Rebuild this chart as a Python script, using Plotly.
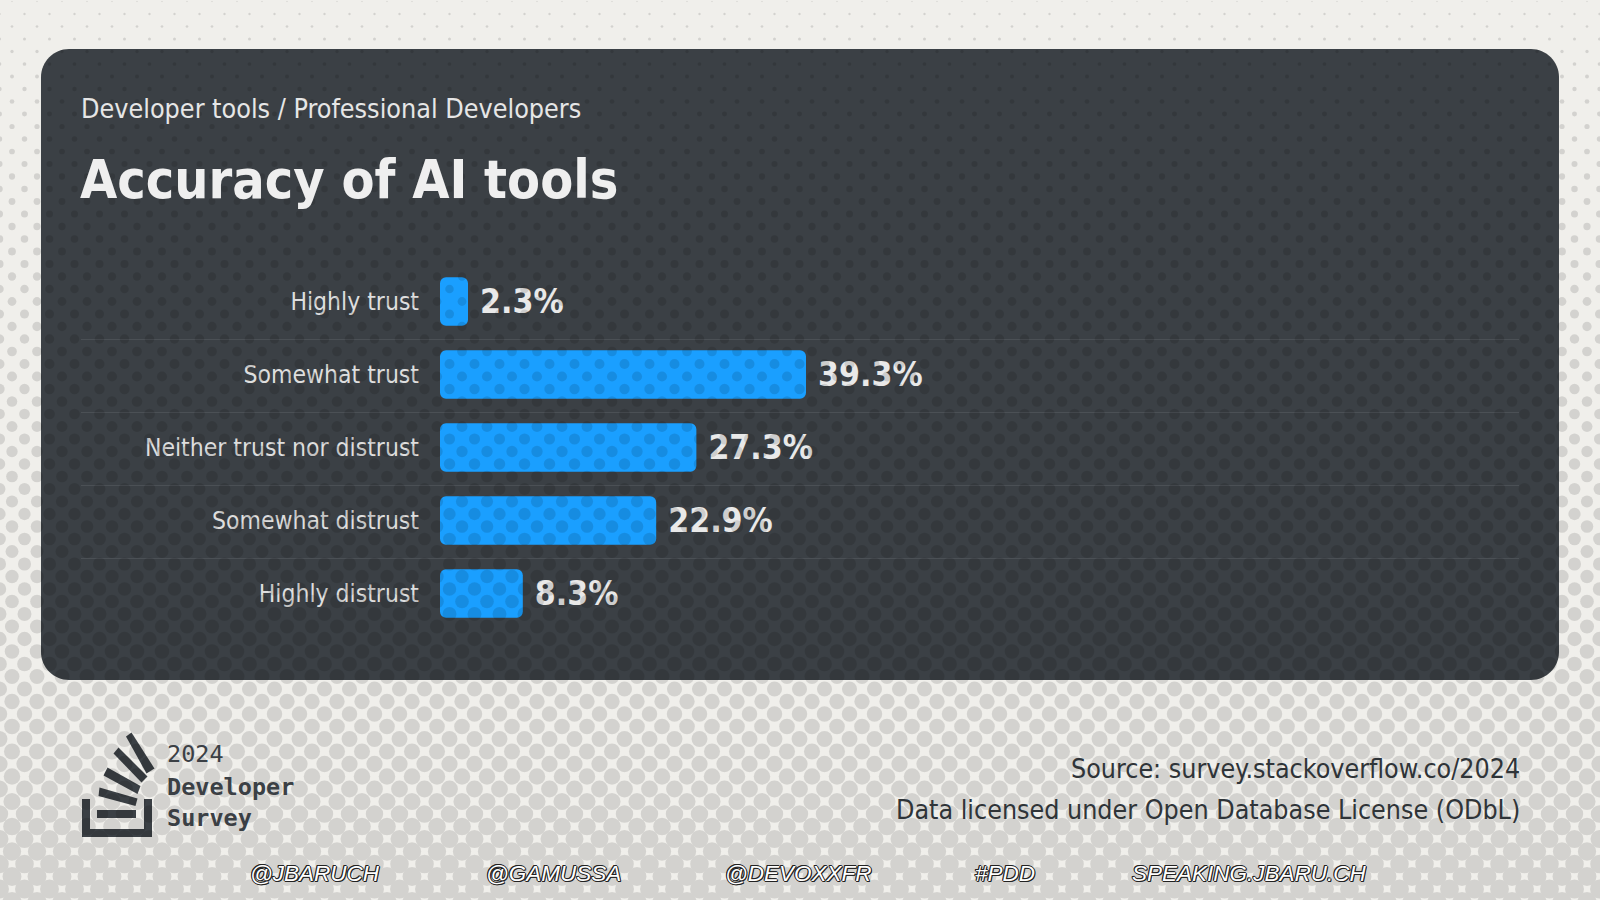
import base64
import numpy as np
import plotly.graph_objects as go

W, H = 1600, 900

categories = ["Highly trust", "Somewhat trust", "Neither trust nor distrust", "Somewhat distrust", "Highly distrust"]
values = [2.3, 39.3, 27.3, 22.9, 8.3]
handles = ["@JBARUCH", "@GAMUSSA", "@DEVOXXFR", "#PDD", "SPEAKING.JBARU.CH"]
handle_x = [315, 553, 798, 1005, 1249]
source_lines = ["Source: survey.stackoverflow.co/2024", "Data licensed under Open Database License (ODbL)"]

PX_PER_UNIT = 9.135
BAR_PAD = 0.766  # bars have a small minimum width on top of the value
PLOT_LEFT, PLOT_RIGHT = 440, 1519
PLOT_TOP, PLOT_BOTTOM = 265, 630
CARD = "#3b4045"
PAGE = "#f0efeb"
BLUE = "#1a9fff"
SANS = "DejaVu Sans Condensed, DejaVu Sans"


def px(x):
    return x / W


def py(y):
    return 1 - y / H


def halftone_svg():
    # dots get bigger going down the page
    dots = []
    row = 0
    for y in np.arange(1.5, H + 13, 12.5):
        r = np.interp(y, [0, 14, 115, 330, 680, 770, 880], [0.6, 1.2, 2.5, 4.7, 7.5, 8.2, 9.5])
        start = 12 if row % 2 == 0 else 24.5
        for x in np.arange(start - 25, W + 25, 25):
            dots.append(f'<circle cx="{x}" cy="{y}" r="{r:.2f}"/>')
        row += 1
    svg = f'<svg xmlns="http://www.w3.org/2000/svg" width="{W}" height="{H}" viewBox="0 0 {W} {H}"><g fill="#000" opacity="0.115">{"".join(dots)}</g></svg>'
    return "data:image/svg+xml;base64," + base64.b64encode(svg.encode()).decode()


def poly(points, color=CARD):
    path = "M " + " L ".join(f"{px(x):.5f},{py(y):.5f}" for x, y in points) + " Z"
    return dict(type="path", xref="paper", yref="paper", path=path, fillcolor=color, line_width=0, layer="below")


def rounded_rect(x0, y0, x1, y1, r):
    k = 0.45 * r
    p = lambda x, y: f"{px(x):.5f},{py(y):.5f}"
    path = (f"M {p(x0 + r, y0)} L {p(x1 - r, y0)} C {p(x1 - k, y0)} {p(x1, y0 + k)} {p(x1, y0 + r)} "
            f"L {p(x1, y1 - r)} C {p(x1, y1 - k)} {p(x1 - k, y1)} {p(x1 - r, y1)} "
            f"L {p(x0 + r, y1)} C {p(x0 + k, y1)} {p(x0, y1 - k)} {p(x0, y1 - r)} "
            f"L {p(x0, y0 + r)} C {p(x0, y0 + k)} {p(x0 + k, y0)} {p(x0 + r, y0)} Z")
    return dict(type="path", xref="paper", yref="paper", path=path, fillcolor=CARD, line_width=0, layer="below")


def note(text, x, y, size, color, family=SANS, anchor="left", **font):
    return dict(text=text, x=px(x), y=py(y), xref="paper", yref="paper", xanchor=anchor, yanchor="middle",
                showarrow=False, font=dict(family=family, size=size, color=color, **font))


fig = go.Figure(go.Bar(
    y=categories, x=[v + BAR_PAD for v in values], base=-BAR_PAD, orientation="h", width=0.665,
    marker=dict(color=BLUE, line_width=0),
    text=[f"\u2009\u200a{v}%" for v in values], textposition="outside", cliponaxis=False,
    textfont=dict(family=SANS, size=33.5, color="#e9e9e9", weight="bold"),
))

shapes = [rounded_rect(41, 49, 1559, 680, 28)]
# row separators
for i in range(len(categories) - 1):
    shapes.append(dict(type="line", xref="paper", yref="y", x0=px(81), x1=px(1519), y0=i + 0.52, y1=i + 0.52,
                       line=dict(color="rgba(255,255,255,0.09)", width=1), layer="below"))
# stack overflow logo
shapes += [
    poly([(82, 799), (90, 799), (90, 829), (144, 829), (144, 799), (152, 799), (152, 837), (82, 837)]),
    poly([(97, 810), (136, 810), (136, 818), (97, 818)]),
    poly([(99.5, 787.5), (137.5, 798.5), (135.5, 806), (98.5, 796)]),
    poly([(107.5, 767.5), (140.5, 786), (137.5, 794), (103.5, 775.5)]),
    poly([(118.5, 747.5), (147.5, 776.5), (141.5, 782.5), (113.5, 753.5)]),
    poly([(131.5, 732.5), (154.5, 768.5), (146.5, 773.5), (126, 736.5)]),
]

annotations = [
    note("Developer tools / Professional Developers", 79, 108, 26.7, "#e6e6e6"),
    note("2024", 165, 754, 23.5, CARD, family="DejaVu Sans Mono"),
    note("Developer", 165, 787, 23.5, CARD, family="DejaVu Sans Mono", weight="bold"),
    note("Survey", 165, 818, 23.5, CARD, family="DejaVu Sans Mono", weight="bold"),
    note(source_lines[0], 1522, 768, 26.6, "#2f3438", anchor="right"),
    note(source_lines[1], 1522, 809, 26.6, "#2f3438", anchor="right"),
]
for name, x in zip(handles, handle_x):
    annotations.append(note(name, x, 873, 22.5, "#ffffff", family="Liberation Sans", anchor="center", style="italic",
                            shadow="1px 0 #222, -1px 0 #222, 0 1px #222, 0 -1px #222, 1px 1px #222, -1px -1px #222"))

fig.update_layout(
    width=W, height=H, margin=dict(l=0, r=0, t=0, b=0), showlegend=False,
    paper_bgcolor=PAGE, plot_bgcolor="rgba(0,0,0,0)", barcornerradius=6,
    title=dict(text="Accuracy of AI tools", x=px(80), xanchor="left", xref="paper", y=py(179), yanchor="middle",
               font=dict(family=SANS, size=53.5, color="#efefef", weight="bold")),
    xaxis=dict(domain=[px(PLOT_LEFT), px(PLOT_RIGHT)], range=[-BAR_PAD, -BAR_PAD + (PLOT_RIGHT - PLOT_LEFT) / PX_PER_UNIT],
               visible=False),
    yaxis=dict(domain=[py(PLOT_BOTTOM), py(PLOT_TOP)], autorange="reversed", showgrid=False, zeroline=False, showline=False,
               ticks="", ticklabelstandoff=20, tickfont=dict(family=SANS, size=24.5, color="#dedede")),
    shapes=shapes, annotations=annotations,
    images=[dict(source=halftone_svg(), xref="paper", yref="paper", x=0, y=1, sizex=1, sizey=1, sizing="stretch",
                 xanchor="left", yanchor="top", layer="above")],
)

fig.write_html("out.html", config={"displayModeBar": False}, post_script="document.body.style.margin='0';")
